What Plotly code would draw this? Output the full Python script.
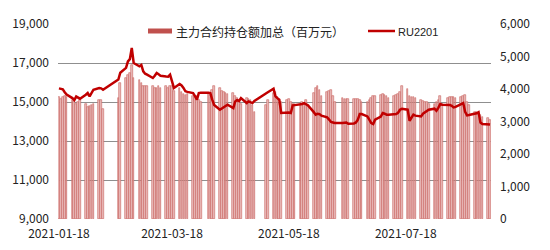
import pandas as pd
import plotly.graph_objects as go

# Trading days (SHFE), Jan 18 - Aug 31 2021, excluding exchange holidays
holidays = ["2021-02-11", "2021-02-12", "2021-02-15", "2021-02-16", "2021-02-17",
            "2021-04-05", "2021-05-03", "2021-05-04", "2021-05-05", "2021-06-14"]
dates = [d for d in pd.bdate_range("2021-01-18", "2021-08-31") if d.strftime("%Y-%m-%d") not in holidays]

# RU2201 price (left axis), grouped by trading week
ru2201_weeks = [
    [15700, 15680, 15650, 15500, 15380],
    [15200, 15100, 15280, 15200, 15170],
    [15370, 15460, 15290, 15500, 15630],
    [15720, 15700, 15630],
    [16150, 16500],
    [16750, 17080, 17200, 17770, 17000],
    [16830, 16900, 16570, 16450, 16400],
    [16230, 16350, 16490, 16420, 16350],
    [16310, 16300, 16400, 16100, 15720],
    [15920, 15850, 15720, 15550, 15520],
    [15460, 15300, 15120, 15460, 15480],
    [15480, 15460, 15120, 14850],
    [14605, 14680, 14720, 14800, 14862],
    [14690, 15030, 15100, 15050, 15200],
    [14945, 15030, 15000, 14945, 15050],
    [15460, 15500],
    [15680, 15290, 15200, 15118, 14435],
    [14480, 14460, 14435, 14826, 14840],
    [14862, 14900, 14945, 14900, 14826],
    [14480, 14350, 14400, 14380, 14300],
    [14210, 14100, 13975, 13950, 13920],
    [13920, 13950, 13950, 13880],
    [13900, 13950, 14092, 14385, 14385],
    [14262, 14100, 13920, 13872, 14092],
    [14250, 14435, 14400, 14350, 14350],
    [14350, 14385, 14450, 14600, 14656],
    [14605, 14040, 14175, 14350, 14300],
    [14262, 14400, 14480, 14550, 14605],
    [14656, 14553, 14700, 14897, 14862],
    [14862, 14850, 14800, 14720, 14750],
    [14900, 14948, 14500, 14313, 14330],
    [14380, 14420, 14480, 13950, 13872],
    [13872, 13840],
]

# Sum of main-contract open interest value, million yuan (right axis)
oi_value_weeks = [
    [3750, 3700, 3750, 3800, 3750],
    [3650, 3600, 3550, 3600, 3650],
    [3550, 3450, 3480, 3500, 3550],
    [3650, 3650, 3400],
    [3720, 4185],
    [4340, 4420, 4490, 4750, 4340],
    [4290, 4185, 4080, 4100, 4080],
    [4100, 4020, 4040, 4080, 4020],
    [4080, 4020, 4080, 4080, 3950],
    [4020, 3900, 3850, 3820, 3850],
    [3800, 3750, 3800, 3650, 3600],
    [3880, 3880, 3980, 4080],
    [4020, 3950, 3900, 3880, 3850],
    [3880, 3800, 3720, 3650, 3550],
    [3720, 3700, 3650, 3520, 3300],
    [3520, 3650],
    [3880, 3920, 3750, 3550, 3600],
    [3650, 3700, 3600, 3550, 3550],
    [3520, 3600, 3550, 3650, 3500],
    [3880, 4020, 4080, 3980, 3800],
    [3920, 3950, 3980, 3800, 3600],
    [3720, 3700, 3700, 3680],
    [3700, 3700, 3680, 3650, 3600],
    [3600, 3650, 3720, 3780, 3800],
    [3820, 3850, 3820, 3800, 3720],
    [3800, 3820, 3850, 3920, 4080],
    [4000, 3800, 3760, 3760, 3720],
    [3650, 3620, 3600, 3600, 3550],
    [3550, 3600, 3650, 3800, 3550],
    [3720, 3760, 3760, 3740, 3720],
    [3760, 3800, 3820, 3600, 3500],
    [3300, 3280, 3250, 3200, 3150],
    [3100, 3050],
]

ru2201 = [v for w in ru2201_weeks for v in w]
oi_value = [v for w in oi_value_weeks for v in w]
assert len(ru2201) == len(dates) == len(oi_value)

x_ticks = ["2021-01-18", "2021-03-18", "2021-05-18", "2021-07-18"]
left_ticks = [9000, 11000, 13000, 15000, 17000, 19000]
right_ticks = [0, 1000, 2000, 3000, 4000, 5000, 6000]
bar_name = "主力合约持仓额加总（百万元）"
line_name = "RU2201"

BAR_FILL = "#EBBFBE"
BAR_EDGE = "#C85F5C"
BAR_LEGEND = "#C0504D"
LINE_COLOR = "#C00000"

fig = go.Figure()
# bars on the right-hand scale (drawn first, underneath)
fig.add_trace(go.Bar(
    x=dates, y=oi_value, yaxis="y", name=bar_name,
    width=86400000 * 0.85,
    marker=dict(color=BAR_FILL, line=dict(color=BAR_EDGE, width=0.6)),
    showlegend=False,
))
# price line on the left-hand scale (overlay, drawn on top)
fig.add_trace(go.Scatter(
    x=dates, y=ru2201, yaxis="y2", name=line_name, mode="lines",
    line=dict(color=LINE_COLOR, width=2.5),
    showlegend=False,
))

# plot-area geometry in pixels, for the hand-drawn legend
L, R, T, B = 58, 491, 24, 219
def px(xp):
    return (xp - L) / (R - L)
def py(yp):
    return (B - yp) / (B - T)

shapes = [
    dict(type="rect", xref="paper", yref="paper",
         x0=px(148), x1=px(172), y0=py(33.5), y1=py(28.5),
         fillcolor=BAR_LEGEND, line=dict(width=0)),
    dict(type="line", xref="paper", yref="paper",
         x0=px(368), x1=px(395), y0=py(31), y1=py(31),
         line=dict(color=LINE_COLOR, width=2.5)),
]
annotations = [
    dict(text=bar_name, xref="paper", yref="paper", x=px(174), y=py(31.5),
         xanchor="left", yanchor="middle", showarrow=False,
         font=dict(family="Noto Sans CJK SC", size=12, color="#222")),
    dict(text=line_name, xref="paper", yref="paper", x=px(396), y=py(32),
         xanchor="left", yanchor="middle", showarrow=False,
         font=dict(family="Liberation Sans, Arial", size=11, color="#222")),
]

tickfont = dict(family="Noto Sans CJK SC, DejaVu Sans", size=12, color="#222")
fig.update_layout(
    width=550, height=250,
    margin=dict(l=L, r=550 - R, t=T, b=250 - B),
    paper_bgcolor="white", plot_bgcolor="white",
    bargap=0,
    showlegend=False,
    shapes=shapes,
    annotations=annotations,
    xaxis=dict(type="date", range=["2021-01-17 12:00", "2021-08-31 12:00"],
               tickvals=x_ticks, ticktext=x_ticks, tickfont=tickfont,
               showgrid=False, showline=False, ticks="", zeroline=False,
               ticklabelstandoff=6, automargin=False),
    yaxis=dict(range=[0, 6000], tickvals=right_ticks, tickformat=",",
               side="right", tickfont=tickfont, automargin=False,
               showgrid=False, zeroline=False, showline=False, ticks="",
               ticklabelstandoff=8),
    yaxis2=dict(range=[9000, 19000], tickvals=left_ticks, tickformat=",",
                overlaying="y", side="left", automargin=False,
                tickfont=tickfont, showgrid=True, gridcolor="#8f8f8f", gridwidth=1,
                zeroline=False, showline=False, ticks="", ticklabelstandoff=8),
)

fig.write_html("out.html")
